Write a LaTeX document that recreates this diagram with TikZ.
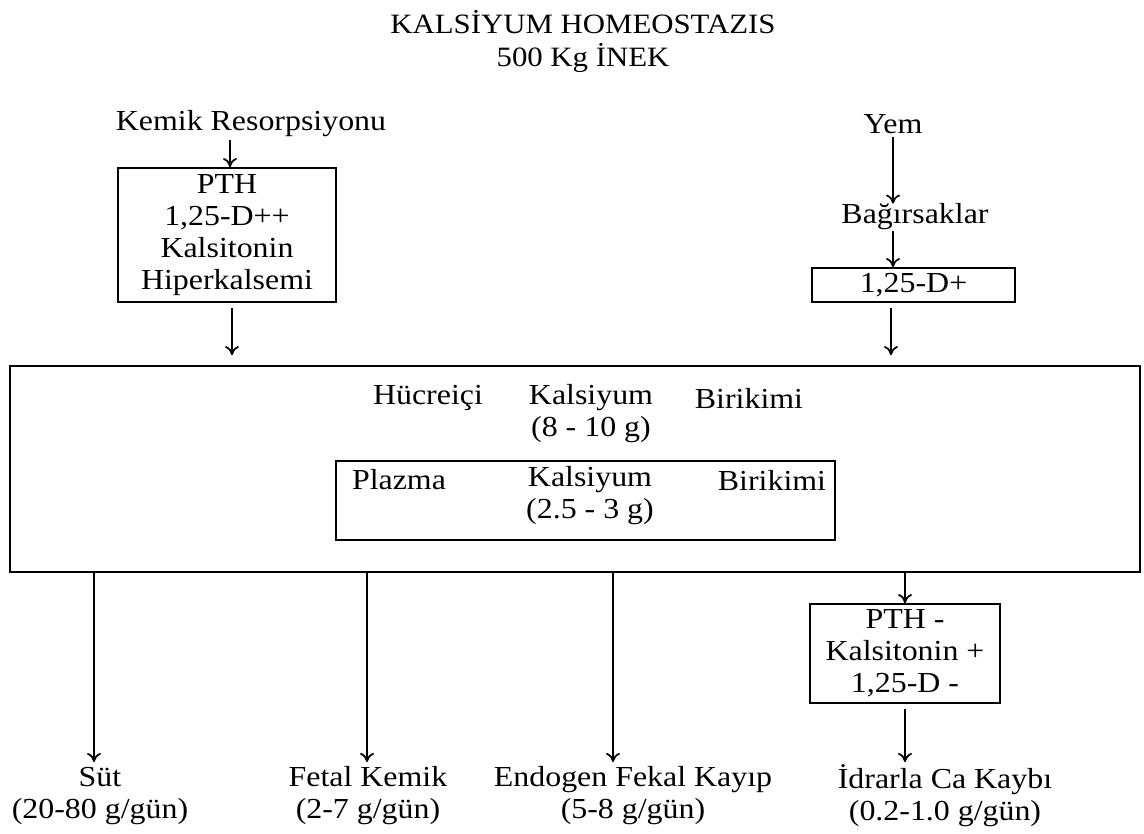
\documentclass[tikz,border=0pt]{standalone}
\usepackage{fontspec}
\setmainfont{Liberation Serif}[FakeStretch=1.1]
\usetikzlibrary{arrows.meta,calc}

\begin{document}
\begin{tikzpicture}[x=1pt,y=-1pt,font=\fontsize{29}{32}\selectfont]
                \tikzstyle{ok}=[line width=1.5pt,-{To[length=9pt,width=14pt,line width=1.7pt]}]
                \tikzstyle{kutu}=[draw,line width=1.8pt,inner sep=0pt,align=center]
                \tikzstyle{yazi}=[align=center,inner sep=0pt]
                
                \useasboundingbox (0,0) rectangle (1144,834);
                
                \node[yazi,font=\fontsize{28}{33}\selectfont] (baslik) at (583,41) {KALSİYUM HOMEOSTAZIS\\500 Kg İNEK};
                
                \node[yazi] (kemik) at (251,124) {Kemik Resorpsiyonu};
                \node[kutu,minimum width=218,minimum height=134] (sol) at (227,235) {PTH\\1,25-D++\\Kalsitonin\\Hiperkalsemi};
                
                \node[yazi] (yem) at (893,124) {Yem};
                \node[yazi] (bagirsak) at (915,217) {Bağırsaklar};
                \node[kutu,minimum width=203,minimum height=34] (dplus) at (913.5,285) {1,25-D+};
                
                \node[kutu,minimum width=1130,minimum height=206] (hucre) at (575,469) {};
                \node[yazi] at (428,398) {Hücreiçi};
                \node[yazi] at (591,398) {Kalsiyum};
                \node[yazi] at (749,398) {Birikimi};
                \node[yazi] at (591,430) {(8 - 10 g)};
                
                \node[kutu,minimum width=499,minimum height=79] (plazma) at (585.5,500.5) {};
                \node[yazi] at (399,480) {Plazma};
                \node[yazi] at (590,480) {Kalsiyum};
                \node[yazi] at (772,480) {Birikimi};
                \node[yazi] at (590,512) {(2.5 - 3 g)};
                
                \node[kutu,minimum width=190,minimum height=99] (pth) at (905,653.5) {PTH -\\Kalsitonin +\\1,25-D -};
                
                \node[yazi] (sut) at (100,796) {Süt\\(20-80 g/gün)};
                \node[yazi] (fetal) at (368,796) {Fetal Kemik\\(2-7 g/gün)};
                \node[yazi] (fekal) at (633,796) {Endogen Fekal Kayıp\\(5-8 g/gün)};
                \node[yazi] (idrar) at (945,796) {İdrarla Ca Kaybı\\(0.2-1.0 g/gün)};
                
                \coordinate (u1) at (94,762);
                \coordinate (u2) at (367,762);
                \coordinate (u3) at (613,762);
                \coordinate (u4) at (905,762);
                
                \draw[ok] (sol.north |- kemik.south) ++(3,3) -- ($(sol.north)+(3,0)$);
                \draw[ok,shorten >=10pt] (sol.south) ++(5,5) -- ($(hucre.north -| sol.south)+(5,0)$);
                \draw[ok] (yem.south) ++(0,3) -- (yem.south |- bagirsak.north);
                \draw[ok] (dplus.north -| yem.south) ++(0,-36) -- (dplus.north -| yem.south);
                \draw[ok,shorten >=10pt] (dplus.south -| yem.south) ++(-2,5) -- ($(hucre.north -| yem.south)+(-2,0)$);
                
                \draw[ok] (hucre.south -| u1) -- (u1);
                \draw[ok] (hucre.south -| u2) -- (u2);
                \draw[ok] (hucre.south -| u3) -- (u3);
                \draw[ok] (hucre.south -| pth.north) -- (pth.north);
                \draw[ok] (pth.south) ++(0,5) -- (u4);
                \end{tikzpicture}
\end{document}
